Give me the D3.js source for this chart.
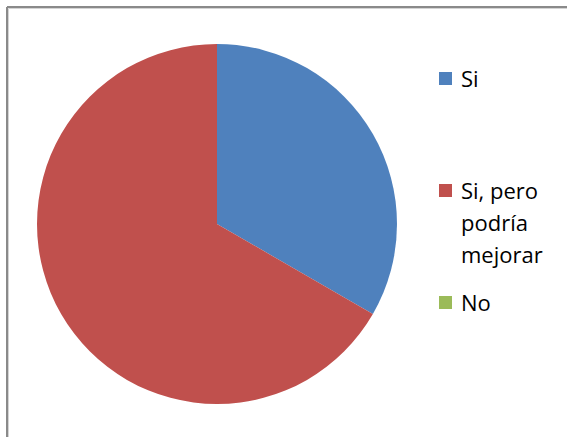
<!DOCTYPE html>
<html>
<head>
<meta charset="utf-8">
<script src="https://cdn.jsdelivr.net/npm/d3@7"></script>
<style>
  html, body { margin: 0; padding: 0; background: #fff; }
  svg { display: block; }
</style>
</head>
<body>
<svg id="chart" width="567" height="437"></svg>
<script>
// Respuestas de la encuesta
const categories = ["Si", "Si, pero podría mejorar", "No"];
const legendLines = [["Si"], ["Si, pero", "podría", "mejorar"], ["No"]];
const values = [1, 2, 0];
const colors = ["#4F81BD", "#C0504D", "#9BBB59"];

const svg = d3.select("#chart");

// Marco del gráfico (solo bordes superior e izquierdo visibles)
svg.append("line").attr("x1", 7).attr("y1", 7).attr("x2", 567).attr("y2", 7)
  .attr("stroke", "#8a8a8a").attr("stroke-width", 2);
svg.append("line").attr("x1", 7).attr("y1", 7).attr("x2", 7).attr("y2", 437)
  .attr("stroke", "#8a8a8a").attr("stroke-width", 2);
svg.append("line").attr("x1", 8.5).attr("y1", 8.5).attr("x2", 567).attr("y2", 8.5)
  .attr("stroke", "#d4d4d4").attr("stroke-width", 1);
svg.append("line").attr("x1", 8.5).attr("y1", 8.5).attr("x2", 8.5).attr("y2", 437)
  .attr("stroke", "#d4d4d4").attr("stroke-width", 1);

// Pastel
const cx = 217, cy = 224, r = 180;
const pie = d3.pie().sort(null).value(d => d);
const arc = d3.arc().innerRadius(0).outerRadius(r);
const g = svg.append("g").attr("transform", `translate(${cx},${cy})`);
g.selectAll("path")
  .data(pie(values))
  .join("path")
  .attr("d", arc)
  .attr("fill", (d, i) => colors[i]);

// Leyenda
const legendY = [72, 184, 296];
const leg = svg.append("g");
categories.forEach((c, i) => {
  leg.append("rect")
    .attr("x", 439).attr("y", legendY[i])
    .attr("width", 13).attr("height", 13)
    .attr("fill", colors[i]);
  const t = leg.append("text")
    .attr("x", 461).attr("y", legendY[i] + 15)
    .attr("font-family", "'Open Sans', sans-serif")
    .attr("font-size", 22)
    .attr("fill", "#000");
  legendLines[i].forEach((line, j) => {
    t.append("tspan").attr("x", 461).attr("dy", j === 0 ? 0 : 32).text(line);
  });
});
</script>
</body>
</html>
